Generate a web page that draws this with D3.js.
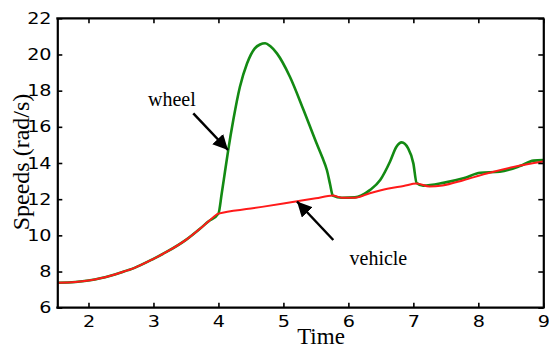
<!DOCTYPE html>
<html>
<head>
<meta charset="utf-8">
<script src="https://cdn.jsdelivr.net/npm/d3@7"></script>
<style>
  html, body { margin: 0; padding: 0; background: #fff; }
  svg { display: block; }
</style>
</head>
<body>
<svg id="chart" width="549" height="349"></svg>
<script>
// Vehicle speed over time (red)
const vehicleTime = [1.52, 1.8, 2.0, 2.2, 2.5, 2.7, 3.0, 3.2, 3.5, 3.72, 3.85, 4.0,
  4.5, 5.0, 5.5, 5.76, 5.9, 6.1, 6.33, 6.6, 6.85, 7.05, 7.25, 7.45, 7.77, 8.13, 8.54, 9.0];
const vehicleSpeed = [7.38, 7.42, 7.5, 7.64, 7.95, 8.19, 8.7, 9.08, 9.75, 10.38, 10.78, 11.2,
  11.48, 11.76, 12.05, 12.2, 12.08, 12.08, 12.33, 12.58, 12.73, 12.86, 12.7, 12.76, 13.05, 13.42, 13.78, 14.08];

// Wheel speed over time (green)
const wheelTime = [1.52, 1.8, 2.0, 2.2, 2.5, 2.7, 3.0, 3.2, 3.5, 3.72, 3.85, 4.0,
  4.05, 4.1, 4.15, 4.23, 4.33, 4.44, 4.56, 4.64, 4.72, 4.8, 4.9, 5.1, 5.31, 5.51, 5.6, 5.67, 5.72, 5.76,
  5.9, 6.1, 6.2, 6.33, 6.49, 6.64, 6.74, 6.82, 6.92, 7.0, 7.05, 7.15, 7.46, 7.77, 8.03, 8.33, 8.64, 8.85, 9.0];
const wheelSpeed = [7.38, 7.42, 7.5, 7.64, 7.95, 8.19, 8.7, 9.08, 9.75, 10.38, 10.78, 11.2,
  12.3, 13.5, 14.7, 16.4, 18.2, 19.5, 20.34, 20.55, 20.62, 20.45, 20.06, 18.77, 16.93, 15.09, 14.3, 13.6, 12.8, 12.2,
  12.08, 12.1, 12.2, 12.5, 13.06, 14.07, 14.9, 15.14, 14.81, 13.98, 12.9, 12.75, 12.9, 13.15, 13.46, 13.52, 13.83, 14.13, 14.16];

const xTicks = [2, 3, 4, 5, 6, 7, 8, 9];
const yTicks = [6, 8, 10, 12, 14, 16, 18, 20, 22];

const svg = d3.select("#chart");
const plotLeft = 57.3, plotRight = 543.3, plotTop = 18.3, plotBottom = 307.7;

const x = d3.scaleLinear().domain([1.52, 9]).range([plotLeft, plotRight]);
const y = d3.scaleLinear().domain([6, 22]).range([plotBottom, plotTop]);

const line = d3.line().x(d => x(d[0])).y(d => y(d[1])).curve(d3.curveMonotoneX);

const vehicle = d3.zip(vehicleTime, vehicleSpeed);
const wheel = d3.zip(wheelTime, wheelSpeed);

svg.append("path").datum(wheel).attr("d", line)
  .attr("fill", "none").attr("stroke", "#138a13").attr("stroke-width", 2.6)
  .attr("stroke-linejoin", "round");
svg.append("path").datum(vehicle).attr("d", line)
  .attr("fill", "none").attr("stroke", "#ff1a1a").attr("stroke-width", 2)
  .attr("stroke-linejoin", "round");

// Axes box with inward ticks
const tickFont = "'DejaVu Sans', Arial, sans-serif";
const axisBottom = svg.append("g").attr("transform", `translate(0,${plotBottom})`)
  .call(d3.axisBottom(x).tickValues(xTicks).tickSizeInner(-5).tickSizeOuter(0).tickPadding(8));
const axisTop = svg.append("g").attr("transform", `translate(0,${plotTop})`)
  .call(d3.axisTop(x).tickValues(xTicks).tickSizeInner(-5).tickSizeOuter(0).tickFormat(""));
const axisLeft = svg.append("g").attr("transform", `translate(${plotLeft},0)`)
  .call(d3.axisLeft(y).tickValues(yTicks).tickSizeInner(-5).tickSizeOuter(0).tickPadding(4.8));
const axisRight = svg.append("g").attr("transform", `translate(${plotRight},0)`)
  .call(d3.axisRight(y).tickValues(yTicks).tickSizeInner(-5).tickSizeOuter(0).tickFormat(""));

[axisBottom, axisTop, axisLeft, axisRight].forEach(g => {
  g.select(".domain").attr("stroke", "#000").attr("stroke-width", 2.2);
  g.selectAll(".tick line").attr("stroke", "#000").attr("stroke-width", 1.6);
  g.selectAll("text").attr("font-family", tickFont).attr("font-size", 16).attr("fill", "#000")
    .attr("transform", "scale(1.2,1)");
});
axisBottom.selectAll(".domain").attr("d", `M${plotLeft - 1},0H${plotRight + 1}`);
axisTop.selectAll(".domain").attr("d", `M${plotLeft - 1},0H${plotRight + 1}`);

// Axis titles
const serif = "'Liberation Serif', 'Times New Roman', serif";
svg.append("text").attr("x", 321).attr("y", 344).attr("text-anchor", "middle")
  .attr("font-family", serif).attr("font-size", 23).text("Time");
svg.append("text").attr("transform", `translate(29,162) rotate(-90)`).attr("text-anchor", "middle")
  .attr("font-family", serif).attr("font-size", 24).text("Speeds (rad/s)");

// Annotations with arrows
svg.append("defs").append("marker").attr("id", "head")
  .attr("viewBox", "0 0 10 10").attr("refX", 10).attr("refY", 5)
  .attr("markerWidth", 6).attr("markerHeight", 6).attr("markerUnits", "strokeWidth")
  .attr("orient", "auto")
  .append("path").attr("d", "M0,0L10,5L0,10Z").attr("fill", "#000");

svg.append("text").attr("x", 148).attr("y", 106).attr("font-family", serif)
  .attr("font-size", 20).text("wheel");
svg.append("line").attr("x1", 193.3).attr("y1", 113.3).attr("x2", 228).attr("y2", 150)
  .attr("stroke", "#000").attr("stroke-width", 2.5).attr("marker-end", "url(#head)");

svg.append("text").attr("x", 349.5).attr("y", 265).attr("font-family", serif)
  .attr("font-size", 20).text("vehicle");
svg.append("line").attr("x1", 333.3).attr("y1", 240).attr("x2", 297).attr("y2", 201.5)
  .attr("stroke", "#000").attr("stroke-width", 2.5).attr("marker-end", "url(#head)");
</script>
</body>
</html>
